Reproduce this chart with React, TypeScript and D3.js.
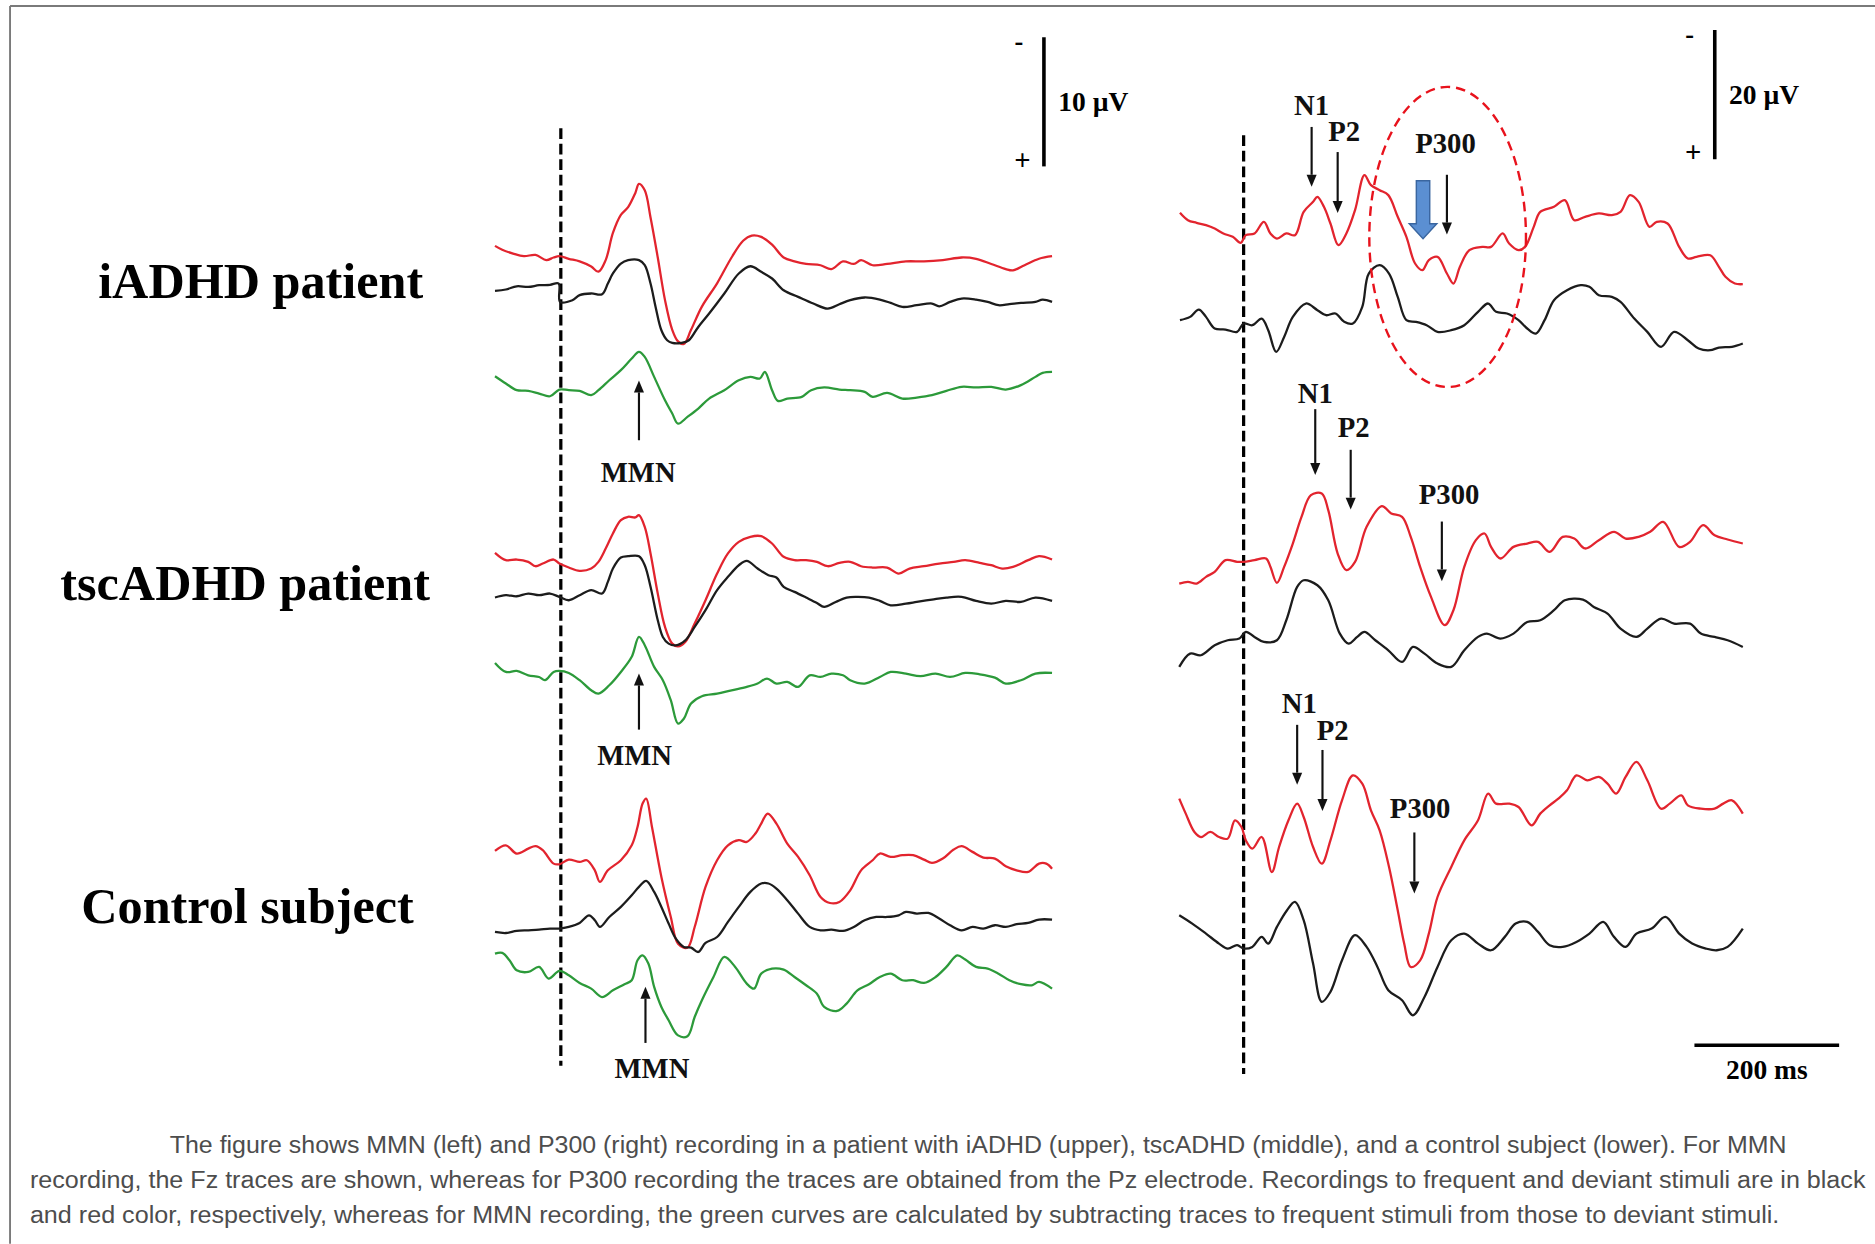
import React from 'react';
import * as d3 from 'd3';

type Pt = [number, number]; // [time ms, amplitude µV] (negative plotted upward)

// ---------- MMN (Fz) traces, 10 µV scale ----------
const mmnIadhdDeviant: Pt[] = [[-91,-0.8],[-81,-0.5],[-66,-0.2],[-51,0],[-35,-0.1],[-20,0.3],[-10,0.1],[-2,0],[11,0.2],[26,0.4],[42,0.8],[52,1.2],[62,0.3],[72,-1.8],[83,-3.2],[93,-3.8],[103,-4.9],[108,-5.6],[116,-5.1],[124,-3.0],[134,0.1],[144,3.4],[154,5.7],[162,6.6],[170,6.8],[180,5.7],[195,3.9],[216,2.1],[236,0.1],[252,-1.2],[264,-1.6],[277,-1.5],[292,-0.9],[308,0.1],[323,0.4],[339,0.6],[359,0.7],[374,1.0],[390,0.4],[405,0.6],[415,0.3],[431,0.7],[451,0.6],[477,0.4],[502,0.4],[528,0.3],[554,0.1],[574,0.2],[595,0.6],[615,1.0],[625,1.1],[641,0.7],[661,0.2],[679,0]];
const mmnIadhdStandard: Pt[] = [[-91,-0.85],[-76,-0.96],[-61,-1.21],[-45,-1.16],[-30,-1.29],[-15,-1.32],[-3,-1.42],[-1,0],[16,-0.13],[26,-0.52],[42,-0.65],[57,-0.59],[65,-1.42],[72,-2.2],[83,-2.97],[93,-3.23],[108,-3.23],[116,-2.84],[124,-1.42],[131,0.39],[139,2.2],[147,2.97],[154,3.18],[167,3.18],[177,2.97],[190,1.94],[205,0.9],[226,-0.65],[246,-2.2],[262,-2.76],[277,-2.33],[292,-1.81],[308,-0.9],[328,-0.39],[349,0.13],[369,0.52],[385,0.18],[400,-0.13],[420,-0.34],[441,-0.18],[456,0.08],[472,0.39],[492,0.26],[513,0.13],[523,0.34],[538,0],[554,-0.26],[574,-0.18],[590,0],[605,0.26],[620,0.18],[636,0.08],[656,0],[666,-0.18],[679,0]];
const mmnIadhdDifference: Pt[] = [[-91,-1.03],[-76,-0.47],[-61,0.05],[-45,0.1],[-30,0.31],[-15,0.52],[-2,0],[11,0.05],[26,0.1],[42,0.44],[52,0.05],[67,-0.72],[83,-1.5],[98,-2.4],[108,-2.92],[116,-2.53],[129,-0.98],[144,0.83],[154,1.86],[162,2.64],[175,2.12],[190,1.47],[205,0.7],[226,0.05],[246,-0.72],[262,-0.98],[275,-0.85],[282,-1.37],[292,0.05],[300,0.88],[313,0.7],[333,0.57],[346,0.05],[364,-0.16],[385,0],[400,0.05],[420,0.18],[431,0.57],[451,0.26],[472,0.7],[492,0.62],[513,0.44],[533,0.1],[554,-0.21],[574,-0.16],[595,-0.21],[615,0],[636,-0.34],[656,-0.98],[666,-1.29],[679,-1.37]];

const mmnTscDeviant: Pt[] = [[-91,-0.83],[-76,-0.26],[-61,-0.31],[-45,-0.13],[-35,0.21],[-25,0],[-10,-0.31],[-2,0],[11,0.31],[26,0.57],[42,0.39],[52,-0.13],[62,-1.16],[72,-2.33],[83,-3.36],[93,-3.62],[103,-3.57],[108,-3.75],[116,-2.84],[124,-0.78],[134,2.33],[144,4.91],[154,6.2],[162,6.41],[172,6.07],[185,4.65],[200,2.84],[216,0.78],[231,-0.78],[246,-1.68],[262,-2.07],[277,-2.12],[292,-1.55],[308,-0.52],[323,-0.26],[339,-0.26],[354,-0.13],[369,0.21],[385,-0.05],[400,-0.13],[415,0.21],[431,0.31],[451,0.31],[467,0.78],[482,0.39],[502,0.21],[523,0],[543,-0.13],[559,-0.26],[579,-0.05],[595,0.13],[610,0.39],[625,0.26],[646,-0.26],[661,-0.57],[679,-0.31]];
const mmnTscStandard: Pt[] = [[-91,0.05],[-76,-0.13],[-61,-0.05],[-45,-0.26],[-30,-0.13],[-15,-0.26],[-2,0],[11,0.26],[26,-0.13],[42,-0.52],[57,-0.26],[65,-1.16],[72,-2.2],[83,-3.05],[93,-3.15],[108,-3.15],[116,-2.45],[124,-0.78],[134,1.81],[141,3.1],[149,3.62],[159,3.75],[172,3.36],[185,2.33],[200,1.03],[216,-0.52],[231,-1.55],[246,-2.45],[257,-2.79],[272,-2.2],[287,-1.68],[298,-1.5],[308,-0.78],[323,-0.39],[339,0.05],[354,0.47],[364,0.78],[380,0.39],[395,0.05],[410,0],[426,0.05],[441,0.31],[456,0.65],[477,0.52],[492,0.39],[513,0.21],[533,0.05],[554,0],[574,0.31],[595,0.52],[615,0.31],[636,0.39],[656,0.05],[679,0.31]];
const mmnTscDifference: Pt[] = [[-91,-0.62],[-76,0.08],[-61,0],[-45,0.34],[-30,0.47],[-22,0.72],[-10,0.08],[-2,0],[11,0.16],[26,0.72],[42,1.5],[52,1.76],[67,1.11],[83,0.08],[98,-1.09],[108,-2.64],[116,-1.99],[129,-0.31],[141,0.72],[152,2.27],[162,4.08],[170,3.7],[180,2.53],[195,1.96],[216,1.76],[236,1.5],[257,1.24],[272,0.98],[285,0.59],[298,0.98],[313,0.85],[328,1.24],[344,0.34],[359,0.47],[374,0.21],[390,0.34],[400,0.72],[420,0.98],[441,0.47],[456,0.08],[477,0.21],[497,0.41],[518,0.21],[538,0.47],[559,0.16],[579,0.26],[600,0.52],[615,0.98],[636,0.72],[656,0.21],[679,0.16]];

const mmnCtrlDeviant: Pt[] = [[-91,-1.03],[-76,-1.47],[-61,-0.83],[-45,-1.21],[-35,-1.4],[-25,-1.09],[-10,-0.05],[-2,0],[11,-0.36],[26,-0.18],[36,-0.31],[47,0.47],[54,1.37],[65,0.47],[83,-0.31],[98,-1.47],[106,-2.89],[113,-4.7],[118,-5.09],[126,-2.89],[139,0.98],[152,4.08],[162,6.15],[175,6.46],[185,4.86],[200,1.76],[216,-0.31],[231,-1.47],[246,-1.86],[257,-1.73],[269,-2.38],[277,-3.15],[286,-3.93],[298,-3.15],[313,-1.6],[328,-0.57],[344,0.85],[359,2.53],[372,3.0],[385,2.92],[400,2.02],[415,0.47],[431,-0.31],[441,-0.83],[456,-0.57],[472,-0.7],[487,-0.7],[502,-0.36],[513,-0.1],[528,-0.44],[543,-1.14],[554,-1.4],[569,-0.96],[584,-0.52],[600,-0.44],[615,0.16],[630,0.47],[646,0.59],[661,-0.05],[671,-0.05],[679,0.34]];
const mmnCtrlStandard: Pt[] = [[-91,0.26],[-76,0.34],[-61,0.18],[-45,0.13],[-30,0.08],[-15,0],[-2,0],[11,-0.13],[26,-0.44],[39,-1.03],[47,-0.65],[54,-0.13],[67,-0.9],[83,-1.68],[98,-2.58],[108,-3.23],[118,-3.7],[129,-2.84],[139,-1.68],[149,-0.39],[159,0.78],[170,1.42],[180,1.47],[190,1.81],[200,1.11],[216,0.65],[231,-0.52],[246,-1.68],[262,-2.84],[277,-3.49],[287,-3.49],[298,-3.1],[313,-2.2],[328,-1.16],[344,-0.13],[359,0.13],[374,0.08],[390,0.18],[405,-0.13],[420,-0.65],[436,-0.9],[451,-0.9],[467,-1.03],[477,-1.29],[492,-1.16],[508,-1.21],[523,-0.78],[538,-0.26],[554,0.13],[569,-0.13],[584,0],[600,-0.26],[615,-0.13],[630,-0.34],[646,-0.44],[661,-0.7],[679,-0.7]];
const mmnCtrlDifference: Pt[] = [[-91,-1.34],[-81,-1.4],[-71,-0.83],[-61,-0.05],[-45,0.08],[-30,-0.31],[-17,0.59],[-2,0],[11,0.34],[26,0.93],[42,1.37],[57,2.02],[72,1.5],[88,1.03],[98,0.72],[106,-0.83],[113,-1.21],[121,-0.57],[129,1.24],[139,2.79],[149,3.82],[162,4.99],[175,5.06],[185,3.57],[195,2.27],[211,0.47],[226,-1.09],[241,-0.31],[257,0.98],[267,1.37],[277,0.21],[292,-0.18],[308,-0.1],[323,0.47],[339,1.11],[354,1.76],[364,2.79],[382,3.1],[395,2.53],[410,1.5],[426,1.03],[441,0.47],[456,0.21],[472,0.72],[487,0.72],[502,0.93],[518,0.47],[533,-0.31],[548,-1.21],[559,-0.88],[574,-0.31],[590,-0.18],[605,0.21],[620,0.72],[636,1.03],[651,1.11],[661,0.85],[679,1.37]];

// ---------- P300 (Pz) traces, 20 µV scale ----------
const p300IadhdDeviant: Pt[] = [[-88,-3.46],[-77,-2.32],[-65,-1.91],[-52,-1.55],[-40,-1.03],[-28,-0.26],[-15,0.26],[-4,1.19],[3,0],[15,-0.26],[28,-2.07],[37,-0.26],[46,0.52],[59,-0.26],[71,0],[83,-3.61],[96,-5.16],[102,-5.94],[111,-4.39],[120,-1.81],[131,1.55],[142,-0.26],[154,-3.87],[167,-9.29],[176,-7.74],[188,-6.97],[200,-6.2],[213,-2.84],[225,0.26],[237,4.39],[247,5.42],[256,3.87],[268,3.36],[281,5.94],[290,7.49],[299,4.9],[312,2.32],[330,1.81],[342,1.81],[358,-0.26],[367,1.29],[380,2.32],[389,1.81],[401,-1.29],[410,-3.61],[429,-4.39],[444,-5.42],[457,-2.32],[472,-2.84],[491,-3.36],[509,-3.1],[521,-3.61],[534,-6.2],[546,-5.16],[561,-1.29],[571,-2.07],[586,-1.81],[602,1.81],[614,3.61],[626,3.36],[645,3.1],[657,4.9],[666,6.45],[679,7.49],[690,7.59]];
const p300IadhdStandard: Pt[] = [[-88,-0.52],[-74,-1.03],[-62,-2.17],[-52,-1.03],[-40,0.77],[-25,0.93],[-9,1.29],[0,0],[12,0.26],[25,-0.77],[34,1.03],[45,4.39],[56,2.07],[68,-1.03],[86,-3.1],[102,-2.07],[114,-1.29],[127,-1.55],[139,-0.26],[151,0],[164,-2.58],[173,-7.74],[188,-9.03],[201,-7.74],[213,-4.13],[225,-0.52],[238,-0.26],[253,0.26],[268,1.29],[287,1.03],[305,0.26],[324,-1.81],[338,-3.1],[349,-1.81],[364,-1.55],[380,-0.52],[392,0.77],[404,1.55],[416,-0.52],[429,-3.61],[447,-5.16],[466,-5.94],[478,-5.68],[491,-4.39],[509,-4.13],[521,-3.36],[540,-0.77],[558,1.29],[577,3.61],[595,1.29],[614,2.58],[629,3.87],[645,4.13],[657,3.72],[675,3.61],[690,3.1]];

const p300TscDeviant: Pt[] = [[-89,3.36],[-77,3.1],[-65,3.36],[-52,2.32],[-40,1.55],[-25,-0.26],[-9,0],[0,0],[15,-0.26],[31,-0.52],[37,0.77],[46,3.25],[56,0.77],[68,-2.84],[80,-6.97],[93,-10.33],[108,-10.58],[117,-8.0],[130,-1.29],[142,1.29],[154,0],[170,-5.42],[191,-8.62],[204,-7.49],[219,-6.97],[231,-3.87],[244,0.77],[259,5.42],[278,9.81],[290,7.49],[305,0.77],[321,-3.36],[333,-4.39],[342,-2.32],[355,-0.52],[373,-2.32],[392,-2.84],[407,-3.1],[423,-1.55],[441,-3.87],[457,-3.61],[472,-2.07],[491,-3.36],[512,-4.65],[528,-3.61],[546,-3.87],[562,-4.65],[580,-6.2],[602,-2.32],[617,-3.1],[635,-5.68],[651,-4.13],[669,-3.46],[690,-2.84]];
const p300TscStandard: Pt[] = [[-89,5.42],[-74,3.36],[-59,3.61],[-40,2.07],[-22,1.29],[-6,1.03],[3,0],[15,0.77],[28,1.55],[46,1.29],[59,-1.81],[74,-6.97],[83,-8.0],[102,-7.23],[117,-4.9],[133,0.26],[145,1.81],[157,0.77],[167,0],[182,1.29],[200,2.84],[219,4.65],[234,2.32],[250,3.36],[268,4.9],[287,5.42],[305,2.84],[324,0.77],[336,0.26],[355,1.03],[373,0.26],[392,-1.55],[410,-1.81],[429,-3.36],[444,-4.9],[469,-5.01],[484,-3.87],[503,-2.84],[521,-0.52],[543,0.77],[558,-0.52],[577,-2.07],[595,-1.29],[617,-1.29],[632,0.26],[651,0.77],[669,1.29],[690,2.32]];

const p300CtrlDeviant: Pt[] = [[-89,-5.42],[-80,-3.1],[-68,-0.26],[-59,0.52],[-46,-0.26],[-34,0.52],[-22,0.77],[-12,-2.07],[-3,-1.03],[3,1.03],[12,2.32],[25,0.52],[39,5.94],[49,2.07],[62,-2.07],[74,-4.65],[83,-2.58],[96,2.07],[108,4.65],[120,1.03],[136,-5.16],[151,-9.03],[164,-7.74],[176,-3.61],[188,-0.52],[201,5.16],[213,11.87],[222,17.04],[231,20.65],[244,19.62],[256,15.49],[268,9.81],[287,5.16],[305,1.03],[324,-2.07],[338,-6.2],[349,-4.65],[367,-4.65],[380,-4.13],[398,-1.29],[410,-3.1],[423,-4.39],[435,-5.42],[447,-6.71],[460,-9.03],[475,-8.26],[491,-8.78],[503,-7.74],[515,-6.2],[528,-8.78],[543,-11.1],[558,-8.26],[577,-3.87],[589,-4.65],[605,-5.94],[614,-4.39],[632,-3.87],[651,-3.87],[663,-4.65],[675,-5.16],[690,-3.1]];
const p300CtrlStandard: Pt[] = [[-89,-5.16],[-71,-3.87],[-52,-2.32],[-34,-0.77],[-22,0],[-9,-0.52],[0,0],[12,-0.26],[25,-1.81],[34,-0.77],[46,-3.36],[60,-5.94],[71,-7.23],[83,-4.39],[96,2.32],[108,8.26],[120,6.71],[136,1.81],[154,-2.07],[170,-0.26],[185,2.84],[200,6.45],[219,8.0],[234,10.33],[250,7.49],[268,2.84],[287,-1.29],[305,-2.32],[324,-0.77],[342,0.26],[361,-1.81],[376,-3.87],[392,-4.13],[407,-2.58],[423,-0.52],[441,-0.26],[460,-1.03],[478,-2.32],[497,-4.13],[512,-1.81],[528,-0.26],[543,-2.32],[564,-3.1],[583,-4.9],[602,-2.32],[620,-0.77],[639,0],[654,0.26],[669,-0.26],[690,-3.1]];

// ---------- labels ----------
const rowLabels = ['iADHD patient', 'tscADHD patient', 'Control subject'];
const componentLabels = ['N1', 'P2', 'P300'];
const mmnLabel = 'MMN';
const scaleLabels = { mmn: '10 µV', p300: '20 µV', time: '200 ms' };
const scaleValues = { mmnUv: 10, p300Uv: 20, timeMs: 200 };
const captionLines = [
  'The figure shows MMN (left) and P300 (right) recording in a patient with iADHD (upper), tscADHD (middle), and a control subject (lower). For MMN',
  'recording, the Fz traces are shown, whereas for P300 recording the traces are obtained from the Pz electrode. Recordings to frequent and deviant stimuli are in black',
  'and red color, respectively, whereas for MMN recording, the green curves are calculated by subtracting traces to frequent stimuli from those to deviant stimuli.',
];

// ---------- layout (viewBox units, 1568 x 1040) ----------
const W = 1568, H = 1040;
const PX_PER_MS = 121 / 200;
const MMN_ONSET_X = 469;
const P300_ONSET_X = 1040;
const MMN_PX_PER_UV = 108 / 10;
const P300_PX_PER_UV = 108 / 20;
const RED = '#e2242e';
const BLACK = '#1c1c1c';
const GREEN = '#2c9a3a';
const SERIF = '"Liberation Serif", "Times New Roman", serif';
const SANS = '"Liberation Sans", Arial, Helvetica, sans-serif';

const xMmn = d3.scaleLinear().domain([-90, 680]).range([MMN_ONSET_X - 90 * PX_PER_MS, MMN_ONSET_X + 680 * PX_PER_MS]);
const xP300 = d3.scaleLinear().domain([-90, 690]).range([P300_ONSET_X - 90 * PX_PER_MS, P300_ONSET_X + 690 * PX_PER_MS]);
const yAt = (base: number, pxPerUv: number) => d3.scaleLinear().domain([0, 1]).range([base, base + pxPerUv]);

const mmnTraces = [
  { data: mmnIadhdDeviant, base: 214.1, color: RED },
  { data: mmnIadhdStandard, base: 252.3, color: BLACK },
  { data: mmnIadhdDifference, base: 325.6, color: GREEN },
  { data: mmnTscDeviant, base: 471.1, color: RED },
  { data: mmnTscStandard, base: 499.0, color: BLACK },
  { data: mmnTscDifference, base: 560.9, color: GREEN },
  { data: mmnCtrlDeviant, base: 722.6, color: RED },
  { data: mmnCtrlStandard, base: 776.4, color: BLACK },
  { data: mmnCtrlDifference, base: 811.8, color: GREEN },
];
const p300Traces = [
  { data: p300IadhdDeviant, base: 196.5, color: RED },
  { data: p300IadhdStandard, base: 270.4, color: BLACK },
  { data: p300TscDeviant, base: 469.7, color: RED },
  { data: p300TscStandard, base: 528.3, color: BLACK },
  { data: p300CtrlDeviant, base: 697.0, color: RED },
  { data: p300CtrlStandard, base: 793.1, color: BLACK },
];

const rowLabelPos = [ { x: 218, y: 249 }, { x: 205, y: 502 }, { x: 207, y: 772 } ];
const mmnArrows = [
  { t: 108, tip: 318, tail: 368, labelT: 107, labelY: 403 },
  { t: 108, tip: 563, tail: 610, labelT: 102, labelY: 640 },
  { t: 117, tip: 825, tail: 872, labelT: 126, labelY: 901 },
];
// per subject: [N1, P2, P300]
const p300Arrows = [
  [ { t: 94, top: 106, tip: 156, labelT: 94, labelY: 96 }, { t: 130, top: 127, tip: 178, labelT: 139, labelY: 118 }, { t: 281, top: 146, tip: 196, labelT: 279, labelY: 128 } ],
  [ { t: 99, top: 342, tip: 397, labelT: 99, labelY: 337 }, { t: 148, top: 376, tip: 426, labelT: 152, labelY: 365 }, { t: 274, top: 436, tip: 486, labelT: 284, labelY: 421 } ],
  [ { t: 74, top: 606, tip: 656, labelT: 77, labelY: 596 }, { t: 109, top: 627, tip: 678, labelT: 123, labelY: 619 }, { t: 236, top: 696, tip: 747, labelT: 244, labelY: 684 } ],
];

function Arrow({ x, from, to }: { x: number; from: number; to: number }) {
  const dir = to > from ? 1 : -1;
  const headLen = 10, headHalf = 4.2;
  const baseY = to - dir * headLen;
  return (
    <g>
      <line x1={x} y1={from} x2={x} y2={baseY} stroke="#111" strokeWidth={1.8} />
      <polygon points={`${x - headHalf},${baseY} ${x + headHalf},${baseY} ${x},${to}`} fill="#111" />
    </g>
  );
}

export default function App() {
  const mmnY = (base: number) => yAt(base, MMN_PX_PER_UV);
  const p300Y = (base: number) => yAt(base, P300_PX_PER_UV);
  const lineGen = (x: d3.ScaleLinear<number, number>, y: d3.ScaleLinear<number, number>) =>
    d3.line<Pt>().x((d) => x(d[0])).y((d) => y(d[1])).curve(d3.curveCatmullRom.alpha(0.5));

  const mmnBarLen = mmnY(0)(scaleValues.mmnUv) - mmnY(0)(0);
  const p300BarLen = p300Y(0)(scaleValues.p300Uv) - p300Y(0)(0);
  const timeBarLen = xP300(scaleValues.timeMs) - xP300(0);

  const blueX = xP300(248);

  return (
    <div style={{ position: 'absolute', left: 0, top: 0, width: 1875, height: 1244, background: '#fff' }}>
      <svg width={1875} height={1244} viewBox={`0 0 ${W} ${H}`} style={{ display: 'block' }}>
        <rect x={0} y={0} width={W} height={H} fill="#fff" />
        {/* frame */}
        <line x1={8.4} y1={4.8} x2={W} y2={4.8} stroke="#7a7a7a" strokeWidth={1.6} />
        <line x1={8.4} y1={4.8} x2={8.4} y2={H} stroke="#7a7a7a" strokeWidth={1.6} />

        {/* row labels */}
        {rowLabels.map((s, i) => (
          <text key={s} x={rowLabelPos[i].x} y={rowLabelPos[i].y} textAnchor="middle" fontFamily={SERIF} fontWeight="bold" fontSize={42} fill="#000">{s}</text>
        ))}

        {/* stimulus onset dashed lines */}
        <line x1={xMmn(0)} x2={xMmn(0)} y1={107} y2={891} stroke="#000" strokeWidth={2.7} strokeDasharray="9,4" />
        <line x1={xP300(0)} x2={xP300(0)} y1={113} y2={898} stroke="#000" strokeWidth={2.7} strokeDasharray="9,4" />

        {/* MMN traces */}
        {mmnTraces.map((tr, i) => (
          <path key={'m' + i} d={lineGen(xMmn, mmnY(tr.base))(tr.data) || ''} fill="none" stroke={tr.color} strokeWidth={1.9} strokeLinejoin="round" />
        ))}
        {/* P300 traces */}
        {p300Traces.map((tr, i) => (
          <path key={'p' + i} d={lineGen(xP300, p300Y(tr.base))(tr.data) || ''} fill="none" stroke={tr.color} strokeWidth={1.9} strokeLinejoin="round" />
        ))}

        {/* MMN arrows */}
        {mmnArrows.map((a, i) => (
          <g key={'ma' + i}>
            <Arrow x={xMmn(a.t)} from={a.tail} to={a.tip} />
            <text x={xMmn(a.labelT)} y={a.labelY} textAnchor="middle" fontFamily={SERIF} fontWeight="bold" fontSize={24} fill="#111">{mmnLabel}</text>
          </g>
        ))}

        {/* P300 component arrows */}
        {p300Arrows.map((row, i) => (
          <g key={'pa' + i}>
            {row.map((a, j) => (
              <g key={j}>
                <Arrow x={xP300(a.t)} from={a.top} to={a.tip} />
                <text x={xP300(a.labelT)} y={a.labelY} textAnchor="middle" fontFamily={SERIF} fontWeight="bold" fontSize={24} fill="#111">{componentLabels[j]}</text>
              </g>
            ))}
          </g>
        ))}

        {/* highlighted P300 region */}
        <ellipse cx={xP300(282)} cy={198} rx={65.5} ry={125.5} fill="none" stroke="#e8121c" strokeWidth={2} strokeDasharray="8,5" />
        <polygon
          points={`${blueX - 5.6},151 ${blueX + 5.6},151 ${blueX + 5.6},187 ${blueX + 11.5},187 ${blueX},199.5 ${blueX - 11.5},187 ${blueX - 5.6},187`}
          fill="#5b8fd2" stroke="#3a66a0" strokeWidth={1.2}
        />

        {/* amplitude scale bars */}
        <line x1={873} x2={873} y1={31} y2={31 + mmnBarLen} stroke="#000" strokeWidth={3} />
        <text x={852} y={42} textAnchor="middle" fontFamily={SERIF} fontWeight="bold" fontSize={22}>-</text>
        <text x={855} y={142} textAnchor="middle" fontFamily={SERIF} fontWeight="bold" fontSize={24}>+</text>
        <text x={885} y={93} fontFamily={SERIF} fontWeight="bold" fontSize={23}>{scaleLabels.mmn}</text>

        <line x1={1434} x2={1434} y1={25} y2={25 + p300BarLen} stroke="#000" strokeWidth={3} />
        <text x={1413} y={36} textAnchor="middle" fontFamily={SERIF} fontWeight="bold" fontSize={22}>-</text>
        <text x={1416} y={135} textAnchor="middle" fontFamily={SERIF} fontWeight="bold" fontSize={24}>+</text>
        <text x={1446} y={87} fontFamily={SERIF} fontWeight="bold" fontSize={23}>{scaleLabels.p300}</text>

        {/* time scale bar */}
        <line x1={1417} x2={1417 + timeBarLen} y1={874} y2={874} stroke="#000" strokeWidth={3} />
        <text x={1417 + timeBarLen / 2} y={902} textAnchor="middle" fontFamily={SERIF} fontWeight="bold" fontSize={23}>{scaleLabels.time}</text>

        {/* caption */}
        <text x={142} y={964} fontFamily={SANS} fontSize={19.5} fill="#4d4d4d" textLength={1352} lengthAdjust="spacingAndGlyphs">{captionLines[0]}</text>
        <text x={25} y={993} fontFamily={SANS} fontSize={19.5} fill="#4d4d4d" textLength={1535} lengthAdjust="spacingAndGlyphs">{captionLines[1]}</text>
        <text x={25} y={1023} fontFamily={SANS} fontSize={19.5} fill="#4d4d4d" textLength={1463} lengthAdjust="spacingAndGlyphs">{captionLines[2]}</text>
      </svg>
    </div>
  );
}
